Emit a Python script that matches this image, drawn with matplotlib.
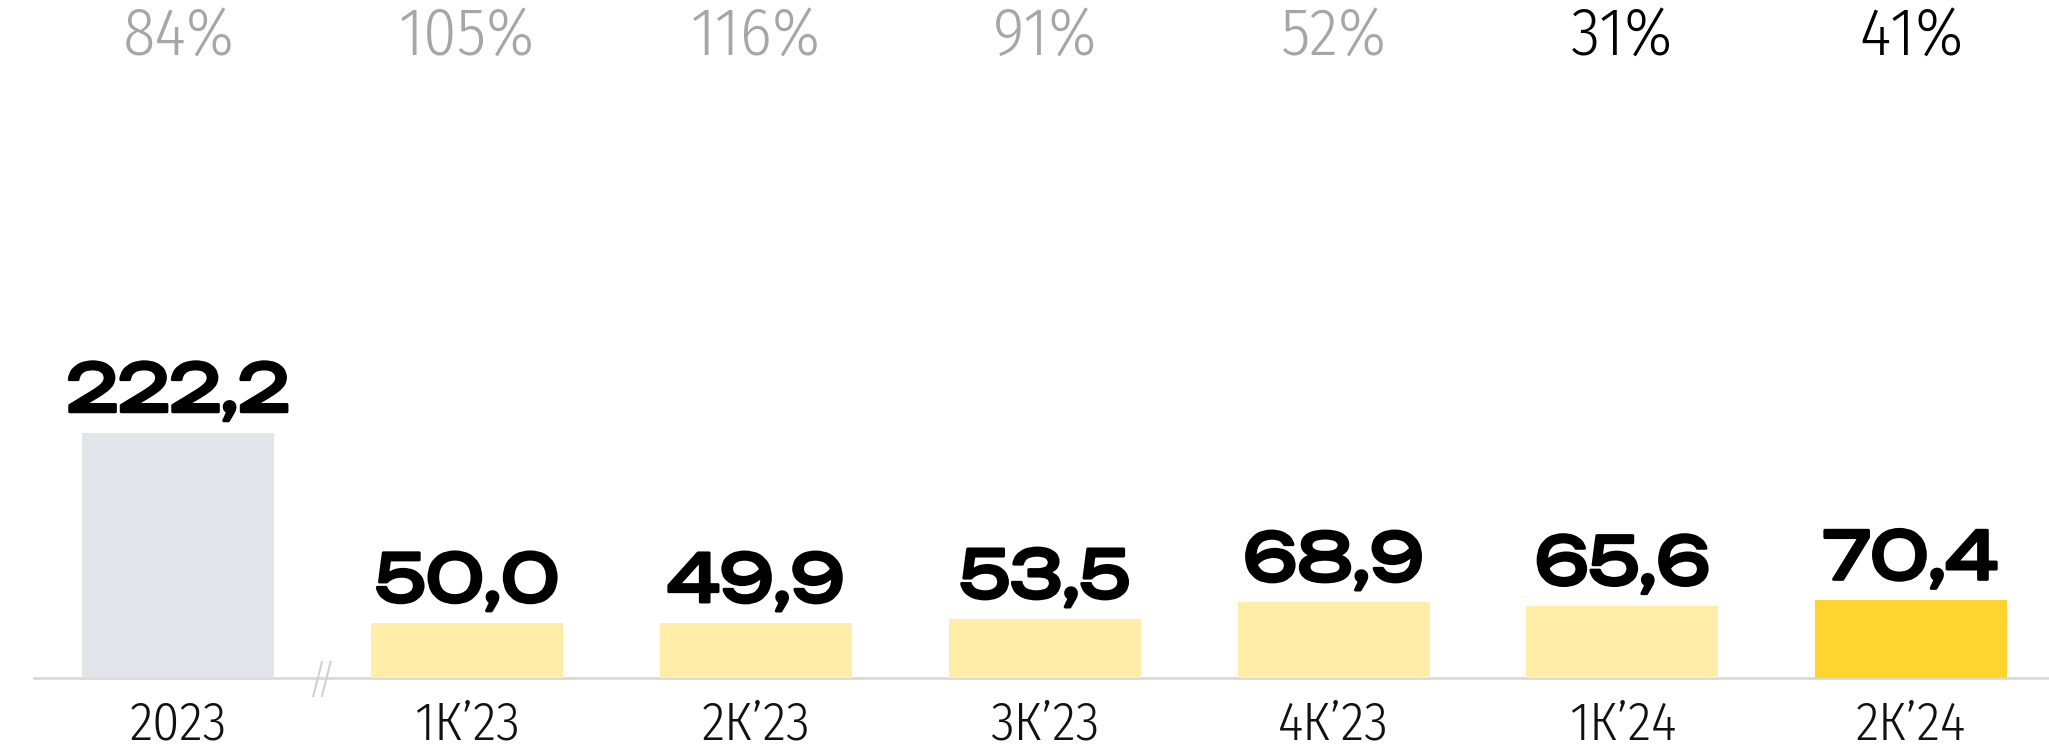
import matplotlib
matplotlib.use('Agg')
import matplotlib.pyplot as plt
import matplotlib.patheffects as pe
from matplotlib import font_manager

categories = ['2023', '1К’23', '2К’23', '3К’23', '4К’23', '1К’24', '2К’24']
values = [222.2, 50.0, 49.9, 53.5, 68.9, 65.6, 70.4]
percents = ['84%', '105%', '116%', '91%', '52%', '31%', '41%']

bar_colors = ['#e4e5ea'] + ['#ffeda8'] * 5 + ['#fed42e']
pct_colors = ['#a6a6a6'] * 5 + ['#000000'] * 2

installed = {f.name for f in font_manager.fontManager.ttflist}


def pick(*names):
    # first installed family, then DejaVu as fallback for missing glyphs
    for n in names:
        if n in installed:
            return [n, 'DejaVu Sans']
    return ['DejaVu Sans']


wide = pick('Unbounded', 'Krona One', 'Encode Sans Expanded')
light = pick('Fira Sans Condensed', 'Roboto Condensed', 'DejaVu Sans')

W, H = 2049, 750
fig = plt.figure(figsize=(W / 100, H / 100), dpi=100)
ax = fig.add_axes([0, 0, 1, 1])

# pixel geometry of the reference
step = 288.8
x0 = 178.4
base = 72  # baseline, px from bottom
ppu = 1.104  # px per unit

ax.set_xlim(-x0 / step, (W - x0) / step)
ax.set_ylim(-base / ppu, (H - base) / ppu)
ax.axis('off')

xs = list(range(len(categories)))
ax.bar(xs, values, width=192 / step, color=bar_colors, zorder=2)

# baseline
ax.axhline(0, xmin=34 / W, xmax=1, color='#d9d9d9', lw=2, zorder=1)

# axis break
for dx in (-0.018, 0.012):
    ax.plot([0.5 + dx - 0.015, 0.5 + dx + 0.015], [-18 / ppu, 16 / ppu],
            color='#d0d0d0', lw=1.5, zorder=3)

bold = [pe.withStroke(linewidth=2.2, foreground='#000000')]
trans = ax.get_xaxis_transform()
for x, v, p, pc, c in zip(xs, values, percents, pct_colors, categories):
    ax.text(x, v + 19, f'{v:.1f}'.replace('.', ','), ha='center', va='baseline',
            fontsize=47, fontweight='bold', family=wide, color='#000000',
            path_effects=bold)
    ax.text(x, 1 - 55 / H, p, transform=trans, ha='center', va='baseline',
            fontsize=48, fontweight=300, family=light, color=pc)
    ax.text(x, 1 - 740 / H, c, transform=trans, ha='center', va='baseline',
            fontsize=39, fontweight=300, family=light, color='#111111')

fig.savefig('out.png', dpi=100)
